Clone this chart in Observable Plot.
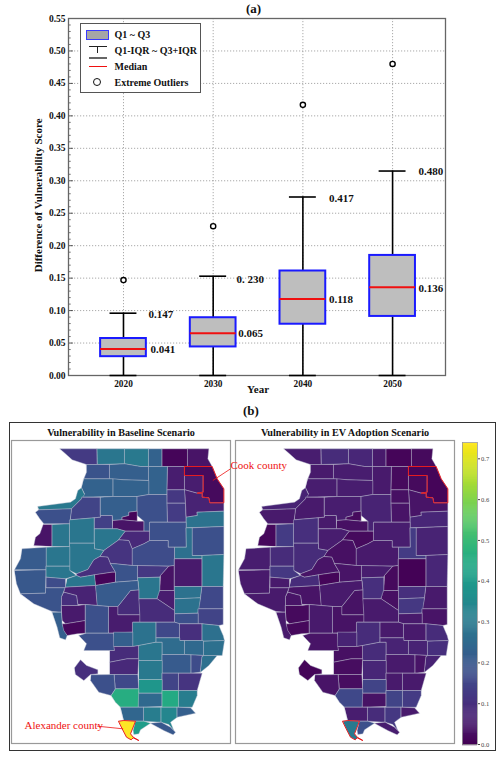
<!DOCTYPE html>
<html><head><meta charset="utf-8">
<script src="https://cdn.jsdelivr.net/npm/d3@7"></script>
<script src="https://cdn.jsdelivr.net/npm/@observablehq/plot@0.6"></script>
<style>
html,body{margin:0;padding:0;background:#fff}
#page{position:relative;width:501px;height:757px;overflow:hidden;font-family:"Liberation Serif",serif;font-weight:bold;color:#111}
#page svg{position:absolute;overflow:visible}
#outer{position:absolute;left:9px;top:422px;width:485px;height:327px;border:1px solid #333}
#legend{position:absolute;left:79.5px;top:22.5px;width:119px;height:68px;border:1px solid #555;background:#fff;font-size:10px}
#legend span{position:absolute;left:34px;white-space:nowrap}
#legend i{position:absolute;display:block}
.cap{position:absolute;white-space:nowrap;font-weight:bold}
</style></head><body><div id="page">
<div class="cap" style="left:246px;top:1px;font-size:13px">(a)</div>
<div class="cap" style="left:243px;top:403px;font-size:13px">(b)</div>
<div id="outer"></div>
</div>
<script>
// ---------- panel (a) values ----------
const years = [2020, 2030, 2040, 2050];
const q1 = [0.029, 0.044, 0.079, 0.091];
const q3 = [0.057, 0.089, 0.161, 0.185];
const medians = [0.041, 0.065, 0.118, 0.136];
const whiskerLow = [0, 0, 0, 0];
const whiskerHigh = [0.096, 0.153, 0.275, 0.315];
const outliers = [0.147, 0.230, 0.417, 0.480];
const outlierLabels = ["0.147", "0. 230", "0.417", "0.480"];
const medianLabels = ["0.041", "0.065", "0.118", "0.136"];
const outlierLabelX = [2022.8, 2032.6, 2042.9, 2052.9];
const outlierLabelY = [0.0944, 0.148, 0.273, 0.3145];
const medianLabelX = [2023, 2032.8, 2042.9, 2052.9];
const medianLabelY = [0.0405, 0.065, 0.1175, 0.134];
const yMajor = [0,0.05,0.10,0.15,0.20,0.25,0.30,0.35,0.40,0.45,0.50,0.55];
const yMinor = [0.01,0.02,0.03,0.04,0.06,0.07,0.08,0.09,0.11,0.12,0.13,0.14,0.16,0.17,0.18,0.19,0.21,0.22,0.23,0.24,0.26,0.27,0.28,0.29,0.31,0.32,0.33,0.34,0.36,0.37,0.38,0.39,0.41,0.42,0.43,0.44,0.46,0.47,0.48,0.49,0.51,0.52,0.53,0.54];

// ---------- panel (b) values: county outlines in map units, vulnerability per county ----------
const countyNames = ["JoDaviess","Stephenson","Winnebago","Boone","McHenry","Lake","Carroll","Ogle","DeKalb","Kane","DuPage","Cook","Whiteside","Lee","RockIsland","Henry","Bureau","LaSalle","Kendall","Grundy","Will","Kankakee","Mercer","Henderson","Warren","Knox","Stark","Putnam","Marshall","Peoria","Woodford","Livingston","Iroquois","Ford","McLean","Tazewell","Fulton","McDonough","Hancock","Adams","Schuyler","Mason","Menard","Logan","DeWitt","Piatt","Champaign","Vermilion","Macon","Douglas","Edgar","Coles","Clark","Cumberland","Moultrie","Shelby","Christian","Sangamon","Cass","Brown","Pike","Morgan","Scott","Greene","Jersey","Calhoun","Macoupin","Montgomery","Fayette","Effingham","Jasper","Crawford","Madison","Bond","Clinton","Marion","Clay","Richland","Lawrence","Wayne","Edwards","Wabash","StClair","Monroe","Randolph","Perry","Jefferson","Hamilton","White","Franklin","Williamson","Jackson","Saline","Gallatin","Union","Johnson","Pope","Hardin","Alexander","Pulaski","Massac"];
const countyRings = [
[[178,145],[290,145],[291,192],[258,192],[215,178],[195,160]],
[[290,145],[373,145],[373,190],[291,192]],
[[373,145],[445,145],[445,198],[420,198],[373,190]],
[[445,145],[485,145],[485,198],[445,198]],
[[485,145],[562,145],[562,198],[485,198]],
[[562,145],[625,145],[622,175],[635,198],[562,198]],
[[258,192],[328,192],[328,235],[250,235],[258,215]],
[[328,192],[373,190],[420,198],[445,198],[445,240],[370,238],[328,235]],
[[445,198],[502,198],[500,282],[445,282]],
[[502,198],[553,198],[553,268],[500,268]],
[[553,225],[608,225],[608,275],[590,278],[553,268]],
[[553,198],[635,198],[650,235],[670,265],[670,307],[628,307],[625,292],[605,290],[605,278],[590,278],[608,275],[608,225],[553,225]],
[[250,235],[338,235],[338,288],[243,290],[252,280],[243,262]],
[[338,235],[370,238],[445,240],[445,282],[410,288],[338,288]],
[[112,318],[210,305],[225,295],[232,270],[243,262],[252,282],[243,295],[213,325],[115,328]],
[[213,325],[243,295],[243,290],[300,290],[300,350],[210,358]],
[[300,290],[338,288],[410,288],[410,332],[385,335],[385,345],[365,350],[365,358],[337,360],[335,345],[300,345]],
[[410,288],[445,282],[500,282],[502,365],[448,365],[448,392],[430,392],[430,362],[410,345]],
[[500,268],[553,268],[555,308],[500,308]],
[[500,308],[555,308],[557,365],[502,365]],
[[553,268],[590,278],[605,278],[605,290],[625,292],[628,307],[670,307],[670,332],[590,335],[590,345],[557,350],[555,308]],
[[590,335],[670,332],[670,378],[557,382],[557,350],[590,345]],
[[105,335],[115,328],[213,325],[208,370],[130,370],[118,355]],
[[100,435],[105,410],[118,400],[128,372],[155,372],[155,437]],
[[155,372],[208,370],[208,438],[155,438]],
[[208,358],[282,352],[282,428],[208,428]],
[[282,352],[300,350],[300,345],[335,345],[337,385],[282,385]],
[[365,350],[385,345],[385,335],[410,332],[410,362],[365,358]],
[[337,360],[365,358],[410,362],[430,362],[430,392],[375,392],[350,385],[337,385]],
[[282,385],[337,385],[350,385],[375,392],[355,418],[310,450],[282,445]],
[[375,392],[430,392],[448,392],[448,420],[430,430],[395,445],[385,420],[355,418]],
[[448,365],[557,365],[557,440],[503,440],[503,420],[448,420]],
[[575,382],[670,378],[670,462],[605,465],[575,465]],
[[557,382],[575,382],[575,465],[605,465],[605,475],[522,475],[522,440],[557,440]],
[[395,445],[430,430],[448,420],[503,420],[503,440],[522,440],[522,495],[505,497],[395,495]],
[[310,450],[355,418],[385,420],[395,445],[395,495],[345,490],[330,490],[322,470],[298,468]],
[[208,428],[282,428],[282,445],[310,450],[298,468],[280,478],[262,507],[228,520],[208,510]],
[[137,440],[208,438],[208,497],[137,497]],
[[65,445],[137,440],[137,508],[42,508],[60,475]],
[[42,510],[137,508],[135,578],[60,580],[48,550]],
[[137,497],[208,497],[208,510],[228,525],[195,535],[137,530]],
[[228,520],[262,507],[280,478],[298,468],[322,470],[330,490],[345,515],[335,515],[282,523],[240,530],[228,525]],
[[282,523],[335,515],[345,515],[345,545],[285,555]],
[[345,490],[395,495],[412,495],[412,540],[345,545],[345,515],[330,490]],
[[412,495],[505,497],[480,525],[478,530],[412,532]],
[[480,525],[505,497],[522,495],[522,570],[478,570]],
[[522,475],[605,475],[605,558],[522,558]],
[[605,465],[670,462],[668,558],[605,558]],
[[412,532],[478,530],[478,575],[470,595],[415,595],[415,568]],
[[522,558],[605,558],[600,592],[522,595]],
[[605,558],[668,558],[668,625],[593,625],[600,592]],
[[522,595],[600,592],[593,638],[522,640]],
[[593,625],[668,625],[668,672],[655,675],[605,670],[593,670]],
[[522,640],[593,638],[593,670],[538,670],[522,665]],
[[478,570],[522,570],[522,630],[500,615],[470,595]],
[[415,595],[470,595],[500,615],[522,630],[522,665],[418,665]],
[[352,618],[390,570],[415,568],[415,595],[418,643],[352,643]],
[[285,555],[345,545],[412,540],[415,568],[390,570],[352,618],[325,618],[290,615]],
[[200,535],[228,525],[240,530],[282,523],[285,555],[195,560]],
[[137,530],[195,535],[195,562],[137,562]],
[[60,580],[135,578],[135,562],[195,562],[183,590],[183,635],[155,633],[100,610]],
[[195,560],[285,555],[290,615],[255,612],[232,612],[228,585],[190,575]],
[[190,575],[228,585],[232,612],[232,615],[183,615],[183,590]],
[[183,615],[232,615],[255,612],[255,660],[195,670],[185,660]],
[[185,670],[195,670],[255,660],[255,698],[230,700],[200,705],[188,690]],
[[155,635],[183,635],[185,670],[190,690],[200,705],[195,718],[178,712],[170,680]],
[[255,612],[290,615],[325,618],[325,698],[255,698]],
[[325,618],[352,618],[352,643],[418,643],[418,665],[397,665],[397,695],[325,698]],
[[397,665],[467,665],[467,725],[415,735],[397,738]],
[[467,665],[522,665],[538,670],[538,712],[467,712]],
[[538,670],[605,670],[605,720],[538,720]],
[[605,670],[655,675],[668,705],[672,720],[610,722],[605,720]],
[[235,705],[258,698],[340,698],[342,750],[250,750],[258,730]],
[[340,695],[397,695],[397,738],[340,738]],
[[328,750],[342,750],[340,738],[397,738],[415,735],[415,775],[380,775],[328,785]],
[[415,735],[467,725],[485,725],[485,780],[415,780]],
[[467,712],[538,712],[538,720],[553,720],[553,762],[485,762],[485,725],[467,725]],
[[553,720],[605,720],[610,722],[610,765],[553,762]],
[[610,722],[672,720],[665,765],[610,765]],
[[485,762],[553,762],[572,763],[572,818],[485,818]],
[[572,763],[610,765],[605,768],[600,815],[572,818]],
[[605,768],[610,765],[650,765],[625,795],[600,815]],
[[328,785],[380,775],[415,775],[412,822],[328,822]],
[[222,802],[240,778],[258,795],[292,808],[292,820],[270,822],[250,840],[225,822]],
[[272,823],[342,822],[345,865],[332,885],[295,875],[270,840]],
[[342,822],[412,822],[415,865],[345,865]],
[[415,780],[485,780],[485,837],[415,837]],
[[485,818],[535,818],[535,870],[485,870]],
[[535,818],[605,818],[600,835],[590,870],[535,870]],
[[415,837],[485,837],[485,878],[415,878]],
[[413,878],[485,878],[485,918],[413,920]],
[[332,885],[345,865],[415,865],[413,920],[360,920],[345,905]],
[[485,870],[535,870],[535,920],[485,920]],
[[535,870],[590,870],[590,885],[575,920],[535,920]],
[[360,920],[430,920],[430,962],[405,962],[370,960]],
[[430,920],[482,920],[482,965],[430,962]],
[[482,920],[530,920],[530,950],[510,965],[520,990],[505,972],[482,965]],
[[530,920],[570,922],[585,938],[530,950]],
[[355,962],[370,960],[405,962],[390,1000],[398,1010],[415,1020],[398,1012],[392,1018],[378,1010],[365,985]],
[[405,962],[430,962],[450,968],[420,988],[415,1000],[400,1002],[398,990]],
[[450,968],[482,965],[510,980],[525,995],[518,1003],[490,990]]
];
const baselineValues = [.125,.29,.30,.23,.01,.04,.19,.22,.23,.06,.06,.02,.23,.23,.30,.15,.22,.18,.12,.13,.07,.28,.18,.04,.29,.29,.14,.01,.04,.29,.085,.18,.18,.27,.17,.11,.29,.29,.21,.20,.29,.10,.01,.19,.12,.035,.05,.29,.29,.28,.16,.28,.15,.18,.06,.09,.09,.21,.29,.17,.19,.07,.10,.05,.015,.22,.18,.055,.28,.16,.10,.27,.18,.22,.09,.29,.26,.25,.27,.21,.17,.27,.085,.10,.18,.16,.30,.15,.11,.39,.25,.46,.45,.31,.24,.31,.34,.22,.74,.41,.20];
const evValues = [.06,.09,.08,.05,.01,.02,.05,.06,.05,.02,.02,.01,.06,.06,.07,.05,.06,.07,.03,.04,.04,.08,.05,.015,.13,.10,.05,.02,.03,.06,.02,.06,.07,.13,.05,.03,.09,.09,.06,.05,.12,.04,.01,.04,.06,.02,.005,.08,.10,.10,.05,.12,.04,.05,.03,.05,.035,.05,.09,.05,.05,.04,.04,.02,.015,.05,.05,.035,.09,.05,.05,.09,.04,.07,.03,.09,.07,.07,.10,.05,.04,.07,.025,.01,.04,.025,.08,.05,.05,.15,.035,.16,.15,.13,.06,.09,.12,.05,.30,.18,.06];
const highlighted = ["Cook","Alexander"];
const scenarios = ["Baseline","EV"];
const panelTitles = ["Vulnerability in Baseline Scenario","Vulnerability in EV Adoption Scenario"];
const colorbarTicks = [0,0.1,0.2,0.3,0.4,0.5,0.6,0.7];
const colorMax = 0.74;

const page = document.getElementById("page");
const serif = "Liberation Serif";

// ---------- panel (a) ----------
const boxes = years.map((year,i)=>({year,q1:q1[i],q3:q3[i],med:medians[i],lo:whiskerLow[i],hi:whiskerHigh[i],out:outliers[i]}));
const W = 2.55, C = 1.5;
const xMin = 2013.87, xMax = 2055.9;
const chartA = Plot.plot({
  width:501,height:400,marginLeft:68,marginRight:56,marginTop:18,marginBottom:25,
  style:{fontFamily:serif,fontWeight:"bold",fontSize:"10px",color:"#111",background:"transparent"},
  x:{domain:[xMin,xMax],label:null},
  y:{domain:[0,0.55],label:null},
  marks:[
    Plot.gridX(years,{stroke:"#888",strokeOpacity:0.9,strokeDasharray:"1.2,1.8",strokeWidth:0.8}),
    Plot.gridY(yMajor,{stroke:"#888",strokeOpacity:0.9,strokeDasharray:"1.2,1.8",strokeWidth:0.8}),
    Plot.ruleY(yMinor,{x1:xMin,x2:xMin+0.3,stroke:"#333",strokeWidth:0.7}),
    Plot.ruleY(yMajor,{x1:xMin,x2:xMin+0.55,stroke:"#333",strokeWidth:0.8}),
    Plot.axisX({ticks:years,tickFormat:d=>String(d),tickSize:0,tickPadding:5,fontSize:9.3,label:null}),
    Plot.axisY({ticks:yMajor,tickFormat:d3.format(".2f"),tickSize:0,tickPadding:3,fontSize:9.5,label:null}),
    Plot.frame({stroke:"#666",strokeWidth:1.3}),
    Plot.ruleX(boxes,{x:"year",y1:"lo",y2:"q1",stroke:"black",strokeWidth:1.6}),
    Plot.ruleX(boxes,{x:"year",y1:"q3",y2:"hi",stroke:"black",strokeWidth:1.6}),
    Plot.ruleY(boxes,{y:"hi",x1:d=>d.year-C,x2:d=>d.year+C,stroke:"black",strokeWidth:1.6}),
    Plot.ruleY(boxes,{y:"lo",x1:d=>d.year-C,x2:d=>d.year+C,stroke:"black",strokeWidth:1.6}),
    Plot.rect(boxes,{x1:d=>d.year-W,x2:d=>d.year+W,y1:"q1",y2:"q3",fill:"#bebebe",stroke:"#1a1aff",strokeWidth:2}),
    Plot.ruleY(boxes,{y:"med",x1:d=>d.year-W,x2:d=>d.year+W,stroke:"#f01010",strokeWidth:2}),
    Plot.dot(boxes,{x:"year",y:"out",r:2.6,stroke:"black",strokeWidth:1.4,fill:"white"}),
    Plot.text(outlierLabels,{x:(d,i)=>outlierLabelX[i],y:(d,i)=>outlierLabelY[i],text:d=>d,textAnchor:"start",fontSize:11}),
    Plot.text(medianLabels,{x:(d,i)=>medianLabelX[i],y:(d,i)=>medianLabelY[i],text:d=>d,textAnchor:"start",fontSize:11}),
    Plot.text(["Year"],{frameAnchor:"bottom",dy:17,fontSize:11,text:d=>d,x:()=>2035}),
    Plot.text(["Difference of Vulnerability Score"],{frameAnchor:"left",textAnchor:"middle",dx:-30,fontSize:11,rotate:-90,text:d=>d,y:()=>0.2775})
  ]
});
chartA.style.left="0";chartA.style.top="0";
page.appendChild(chartA);

// ---------- legend ----------
const legend=document.createElement("div");legend.id="legend";
legend.innerHTML=`
<i style="left:5px;top:6px;width:21px;height:8px;background:#a6a6a6;border:1.3px solid #3a3aff"></i>
<i style="left:8px;top:22.5px;width:18px;height:1.3px;background:#222"></i>
<i style="left:16.6px;top:23px;width:1.2px;height:6px;background:#222"></i>
<i style="left:8px;top:33.5px;width:18px;height:1.6px;background:#666"></i>
<i style="left:8px;top:42.5px;width:18px;height:1.1px;background:#f01010"></i>
<i style="left:12.5px;top:54.5px;width:6px;height:6px;border:1.7px solid #111;border-radius:50%"></i>
<span style="top:5px">Q1 ~ Q3</span><span style="top:21px">Q1-IQR ~ Q3+IQR</span>
<span style="top:37px">Median</span><span style="top:53px">Extreme Outliers</span>`;
page.appendChild(legend);

// ---------- panel (b) ----------
const rows = scenarios.flatMap((s,si)=>countyNames.flatMap((name,i)=>countyRings[i].map(([mx,my])=>({
  scenario:s,name,mx,my,v:(si===0?baselineValues:evValues)[i]}))));
const chartB = Plot.plot({
  width:501,height:357,marginLeft:11,marginRight:47,marginTop:40,marginBottom:14,
  style:{fontFamily:serif,fontWeight:"normal",fontSize:"10px",color:"#111",background:"transparent"},
  fx:{domain:scenarios,axis:null,padding:5/224,round:false,label:null},
  x:{domain:[33,690],axis:null},
  y:{domain:[120,1029],axis:null,range:[40,343]},
  color:{type:"linear",scheme:"viridis",domain:[0,colorMax]},
  marks:[
    Plot.frame({stroke:"#999",strokeWidth:1.2}),
    Plot.line(rows,{x:"mx",y:"my",z:"name",fx:"scenario",fill:"v",stroke:"#b9bccd",strokeOpacity:0.75,strokeWidth:0.55,curve:"linear-closed"}),
    Plot.line(rows.filter(d=>highlighted.includes(d.name)),{x:"mx",y:"my",z:"name",fx:"scenario",stroke:"#ee1111",strokeWidth:0.9,curve:"linear-closed"}),
    Plot.link(["Cook"],{fx:()=>"Baseline",x1:()=>637,y1:()=>240,x2:()=>690,y2:()=>205,stroke:"#ee1111",strokeWidth:0.8}),
    Plot.link(["Alexander"],{fx:()=>"Baseline",x1:()=>290,y1:()=>977,x2:()=>368,y2:()=>985,stroke:"#ee1111",strokeWidth:0.8}),
    Plot.text(["Cook county"],{fx:()=>"Baseline",x:()=>690,y:()=>195,text:d=>d,textAnchor:"start",fill:"#ee1111",fontSize:11}),
    Plot.text(["Alexander county"],{fx:()=>"Baseline",x:()=>72,y:()=>975,text:d=>d,textAnchor:"start",fill:"#ee1111",fontSize:11}),
    Plot.text(panelTitles,{fx:(d,i)=>scenarios[i],frameAnchor:"top",dy:-12,text:d=>d,fontWeight:"bold",fontSize:10.2,fill:"#111"})
  ]
});
chartB.style.left="0";chartB.style.top="400px";
page.appendChild(chartB);

// ---------- colour bar ----------
const colorLevels = d3.range(0,colorMax,0.0025);
const chartC = Plot.plot({
  width:40,height:314,marginLeft:3,marginRight:22,marginTop:6,marginBottom:6,
  style:{fontFamily:serif,fontWeight:"normal",fontSize:"6.5px",color:"#444",background:"transparent"},
  x:{axis:null,domain:[0,1]},
  y:{domain:[0,colorMax],label:null},
  color:{type:"linear",scheme:"viridis",domain:[0,colorMax]},
  marks:[
    Plot.ruleY(colorLevels,{y:d=>d,stroke:d=>d,strokeWidth:1.4}),
    Plot.frame({stroke:"#999",strokeWidth:0.8}),
    Plot.axisY({anchor:"right",ticks:colorbarTicks,tickFormat:d3.format(".1f"),tickSize:2,tickPadding:1.5,label:null})
  ]
});
chartC.style.left="459px";chartC.style.top="436px";
page.appendChild(chartC);
</script></body></html>
